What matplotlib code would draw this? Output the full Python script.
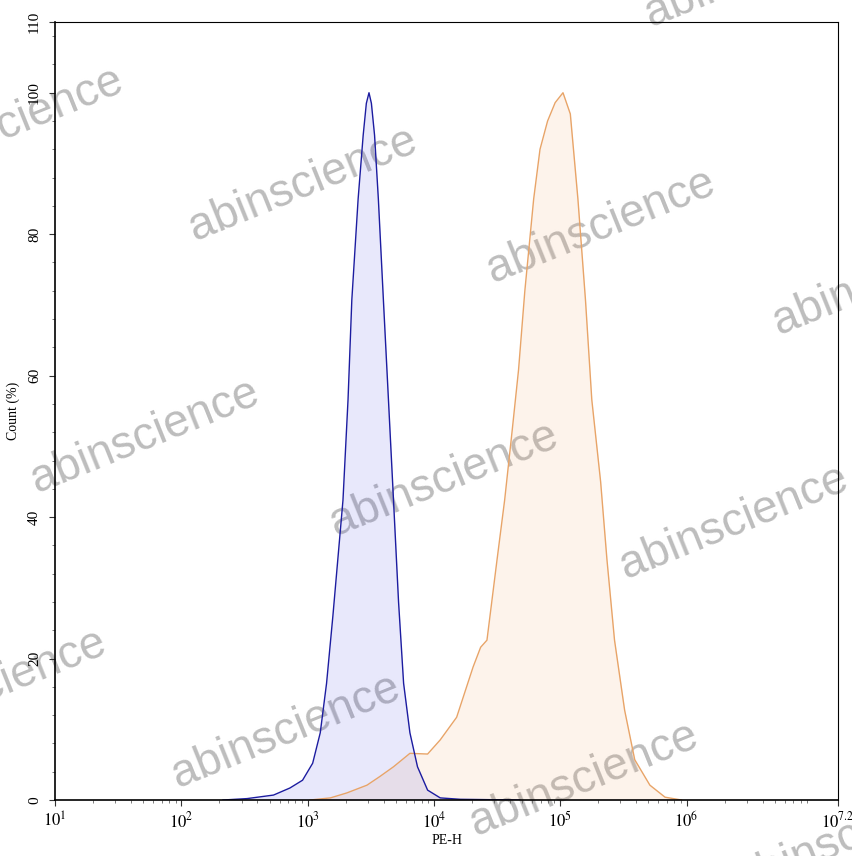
import numpy as np
import matplotlib
matplotlib.use('Agg')
import matplotlib.pyplot as plt
from matplotlib.ticker import FixedLocator, LogLocator, NullFormatter

plt.rcParams['mathtext.fontset'] = 'stix'

# control (blue) histogram: log10(PE-H) and count %
blue_log = [2.33, 2.52, 2.73, 2.86, 2.96, 3.04, 3.10, 3.15, 3.20, 3.28, 3.32,
            3.35, 3.40, 3.44, 3.465, 3.486, 3.505, 3.53, 3.56, 3.60, 3.64, 3.68,
            3.72, 3.76, 3.81, 3.87, 3.95, 4.05, 4.21, 4.44, 4.68]
blue_cnt = [0, 0.2, 0.7, 1.7, 2.8, 5.2, 9.5, 16.5, 26, 42.4, 56.6,
            70.7, 85, 94, 98.5, 100, 98.5, 94, 85, 70.7, 56.6, 42.4,
            28, 16.5, 9.5, 4.7, 1.4, 0.3, 0.1, 0.05, 0]

# stained (orange) histogram
orange_log = [3.02, 3.18, 3.31, 3.47, 3.57, 3.68, 3.81, 3.95, 4.05, 4.18, 4.31,
              4.37, 4.42, 4.50, 4.56, 4.62, 4.67, 4.72, 4.79, 4.84, 4.90, 4.96,
              5.022, 5.08, 5.14, 5.20, 5.25, 5.32, 5.37, 5.43, 5.51, 5.59, 5.71,
              5.83, 5.96]
orange_cnt = [0, 0.3, 1.0, 2.1, 3.3, 4.7, 6.6, 6.5, 8.5, 11.7, 18.8,
              21.6, 22.6, 34, 42.4, 52.3, 60.8, 72, 85, 92, 96, 98.6,
              100, 97, 85, 70.7, 56.6, 45, 34, 22.6, 12.7, 5.7, 2.1,
              0.4, 0]

x_ticks = [1, 2, 3, 4, 5, 6, 7.2]
x_labels = ['$10^{1}$', '$10^{2}$', '$10^{3}$', '$10^{4}$', '$10^{5}$', '$10^{6}$', '$10^{7.2}$']
y_ticks = [0, 20, 40, 60, 80, 100, 110]

# watermark centres (figure fraction)
wm_pos = [(0.89, 1.035), (0.01, 0.855), (0.355, 0.785), (0.705, 0.735), (1.04, 0.675),
          (0.17, 0.49), (0.52, 0.44), (0.86, 0.39), (-0.01, 0.198),
          (0.335, 0.145), (0.685, 0.09), (0.995, 0.022)]

fig = plt.figure(figsize=(8.53, 8.56), dpi=100)
ax = fig.add_axes([0.0645, 0.0654, 0.918, 0.9089])
ax.set_zorder(1)
ax.patch.set_alpha(0)

bx = 10 ** np.array(blue_log)
ox = 10 ** np.array(orange_log)

ax.fill_between(ox, orange_cnt, color='#f0a060', alpha=0.12, lw=0)
ax.fill_between(bx, blue_cnt, color='#3030e0', alpha=0.11, lw=0)
ax.plot(ox, orange_cnt, color='#e8a468', lw=1.0)
ax.plot(bx, blue_cnt, color='#1c1ca0', lw=1.0)

ax.set_xscale('log')
ax.set_xlim(10 ** 1, 10 ** 7.2)
ax.set_ylim(0, 110)
ax.xaxis.set_major_locator(FixedLocator([10 ** t for t in x_ticks]))
ax.set_xticklabels(x_labels)
ax.xaxis.set_minor_locator(LogLocator(base=10, subs=np.arange(2, 10), numticks=20))
ax.xaxis.set_minor_formatter(NullFormatter())
ax.set_yticks(y_ticks)
ax.set_yticks(np.arange(0, 110, 4), minor=True)

for lab in ax.get_xticklabels():
    lab.set_fontsize(12)
for lab in ax.get_yticklabels():
    lab.set_fontfamily('Liberation Serif')
    lab.set_fontsize(11)
    lab.set_rotation(90)
    lab.set_va('center')

ax.tick_params(axis='both', which='major', length=4, width=0.8, color='#333333')
ax.tick_params(axis='both', which='minor', length=2, width=0.6, color='#666666')
ax.tick_params(axis='x', pad=4)
ax.tick_params(axis='y', pad=6)

for s in ['left', 'bottom']:
    ax.spines[s].set_linewidth(1.2)
for s in ['top', 'right']:
    ax.spines[s].set_linewidth(0.8)

ax.set_xlabel('PE-H', fontfamily='Liberation Serif', fontsize=10, labelpad=2)
ax.set_ylabel('Count (%)', fontfamily='Liberation Serif', fontsize=10, labelpad=6)

for (wx, wy) in wm_pos:
    fig.text(wx, wy, 'abinscience', fontsize=33, fontfamily='Liberation Sans',
             color='#bdbdbd', rotation=22, ha='center', va='center', zorder=0)

fig.savefig('out.png', dpi=100)
